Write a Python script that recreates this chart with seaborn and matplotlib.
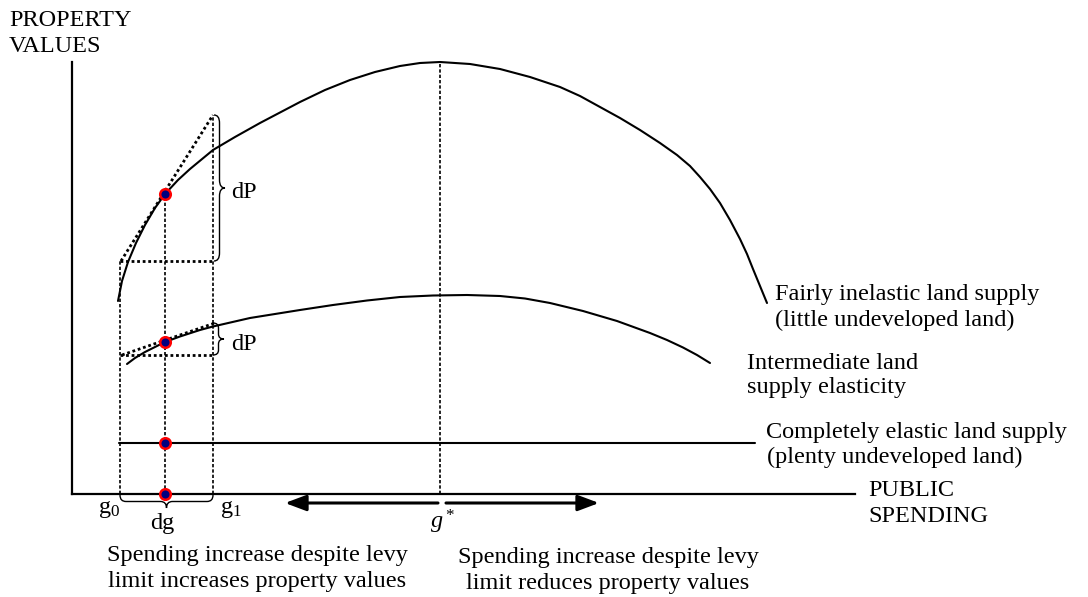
import matplotlib
matplotlib.use("Agg")
import matplotlib.pyplot as plt
from matplotlib.path import Path
from matplotlib.patches import PathPatch
import seaborn as sns

# Drawing units: g = public spending, p = property values (origin at the axes corner)
inelastic_g = [46, 50, 56, 64, 73, 83, 93, 106, 118, 141, 163, 188, 208, 228, 253, 278,
               303, 328, 348, 368, 398, 428, 458, 488, 508, 528, 548, 568, 588, 605,
               618, 628, 638, 648, 658, 668, 675, 681, 688, 695]
inelastic_p = [193, 213, 232, 251, 269, 286, 300, 314, 325, 344, 357, 371, 381.5, 392, 404, 414,
               422, 428, 431, 432, 430, 425, 417, 407, 398, 387, 376, 364, 351, 339,
               328, 317, 305, 291, 274, 255, 240, 225, 208, 191]

intermediate_g = [55, 63, 73, 83, 93, 108, 128, 141, 178, 228, 261, 295, 328, 361, 395,
                  428, 453, 478, 511, 545, 578, 595, 611, 625, 638]
intermediate_p = [130, 136, 142, 147, 152, 157.5, 164, 167.5, 176, 184, 189, 193.5, 197, 198.5, 199,
                  198, 195.5, 191, 183, 173, 161, 154, 146.5, 139, 131]

elastic_g = [47, 683]
elastic_p = [51, 51]

# spending levels
g0, g_mid, g1, g_star = 48, 93, 141, 368
g_axis_end, p_axis_end = 783, 432

# tangent lines at g_mid
tangent_inelastic_g = [49, 141]
tangent_inelastic_p = [233, 379]
tangent_intermediate_g = [50, 143]
tangent_intermediate_p = [139, 171]

# marked points on the g_mid vertical
point_g = [g_mid, g_mid, g_mid, g_mid]
point_p = [300, 152, 51, 0]

# arrows below the axis
arrow_left = (213, 366)
arrow_right = (374, 527)
arrow_p = -9

sns.set_theme(style="white")
plt.rcParams["font.family"] = ["Liberation Serif", "DejaVu Serif"]
plt.rcParams["text.color"] = "black"
plt.rcParams["mathtext.fontset"] = "custom"
plt.rcParams["mathtext.rm"] = "Liberation Serif"
plt.rcParams["mathtext.it"] = "Liberation Serif:italic"

fig = plt.figure(figsize=(10.88, 5.97), dpi=100)
ax = fig.add_axes([0, 0, 1, 1])
ax.set_xlim(-72, 1016)
ax.set_ylim(-103, 494)

# axes
for side in ["top", "right"]:
    ax.spines[side].set_visible(False)
ax.spines["left"].set_position(("data", 0))
ax.spines["bottom"].set_position(("data", 0))
ax.spines["left"].set_bounds(0, p_axis_end)
ax.spines["bottom"].set_bounds(0, g_axis_end)
for side in ["left", "bottom"]:
    ax.spines[side].set_color("black")
    ax.spines[side].set_linewidth(1.6)
ax.set_xticks([])
ax.set_yticks([])
ax.set_xlabel("")
ax.set_ylabel("")

# curves
sns.lineplot(x=inelastic_g, y=inelastic_p, sort=False, color="black", lw=1.5, ax=ax)
sns.lineplot(x=intermediate_g, y=intermediate_p, sort=False, color="black", lw=1.5, ax=ax)
sns.lineplot(x=elastic_g, y=elastic_p, sort=False, color="black", lw=1.5, ax=ax)

# dotted helper lines
fine = dict(color="black", lw=1.2, linestyle=(0, (2, 1.2)))
thick = dict(color="black", lw=2.0, linestyle=(0, (1, 1)))
ax.plot([g0, g0], [0, tangent_inelastic_p[0]], **fine)
ax.plot([g_mid, g_mid], [0, point_p[0]], **fine)
ax.plot([g1, g1], [0, tangent_inelastic_p[1]], **fine)
ax.plot([g_star, g_star], [0, max(inelastic_p)], **fine)
ax.plot(tangent_inelastic_g, tangent_inelastic_p, **thick)
ax.plot(tangent_intermediate_g, tangent_intermediate_p, **thick)
ax.plot([g0, g1], [tangent_inelastic_p[0]] * 2, **thick)
ax.plot([g0, g1], [tangent_intermediate_p[0]] * 2, **thick)

# points
sns.scatterplot(x=point_g, y=point_p, s=58, color="#000080", edgecolor="red",
                linewidth=1.8, zorder=5, ax=ax)


def brace(start, end, base, depth, r, vertical=True):
    mid = (start + end) / 2
    q = depth / 2
    pts = [(base, start), (base + q, start), (base + q, start + r),
           (base + q, mid - r), (base + q, mid), (base + depth, mid),
           (base + q, mid), (base + q, mid + r),
           (base + q, end - r), (base + q, end), (base, end)]
    if not vertical:
        pts = [(b, a) for a, b in pts]
    codes = [Path.MOVETO, Path.CURVE3, Path.CURVE3, Path.LINETO, Path.CURVE3, Path.CURVE3,
             Path.CURVE3, Path.CURVE3, Path.LINETO, Path.CURVE3, Path.CURVE3]
    ax.add_patch(PathPatch(Path(pts, codes), fill=False, lw=1.0, color="black"))


brace(tangent_inelastic_p[0], tangent_inelastic_p[1], g1 + 1, 11, 8)
brace(tangent_intermediate_p[0], tangent_intermediate_p[1], g1, 11, 5)
brace(g0, g1, -1, -13, 6, vertical=False)

# double arrow split at g*
arrow_style = dict(arrowstyle="-|>,head_length=0.8,head_width=0.3", mutation_scale=16,
                   lw=2.2, color="black", shrinkA=0, shrinkB=0)
ax.annotate("", xy=(arrow_left[0], arrow_p), xytext=(arrow_left[1], arrow_p), arrowprops=arrow_style)
ax.annotate("", xy=(arrow_right[1], arrow_p), xytext=(arrow_right[0], arrow_p), arrowprops=arrow_style)

# texts
fs = 17.5
txt = dict(fontsize=fs, color="black", va="baseline", ha="left")
mid_txt = dict(fontsize=fs, color="black", va="baseline", ha="center")
ax.text(-63, 468, "PROPERTY", **txt)
ax.text(-63, 442, "VALUES", **txt)
ax.text(796, -2, "PUBLIC", **txt)
ax.text(796, -28, "SPENDING", **txt)
ax.text(703, 194, "Fairly inelastic land supply", **txt)
ax.text(703, 168, "(little undeveloped land)", **txt)
ax.text(675, 125, "Intermediate land", **txt)
ax.text(675, 101, "supply elasticity", **txt)
ax.text(694, 56, "Completely elastic land supply", **txt)
ax.text(695, 31, "(plenty undeveloped land)", **txt)
ax.text(159, 296, "dP", **txt)
ax.text(159, 144, "dP", **txt)
ax.text(26, -19, "g$_0$", **txt)
ax.text(148, -19, "g$_1$", **txt)
ax.text(90, -35, "dg", **mid_txt)
ax.text(g_star + 3, -35, "$g^*$", **mid_txt)
ax.text(185, -67, "Spending increase despite levy", **mid_txt)
ax.text(185, -93, "limit increases property values", **mid_txt)
ax.text(536, -69, "Spending increase despite levy", **mid_txt)
ax.text(536, -95, "limit reduces property values", **mid_txt)

fig.savefig("out.png", dpi=100, facecolor="white")
